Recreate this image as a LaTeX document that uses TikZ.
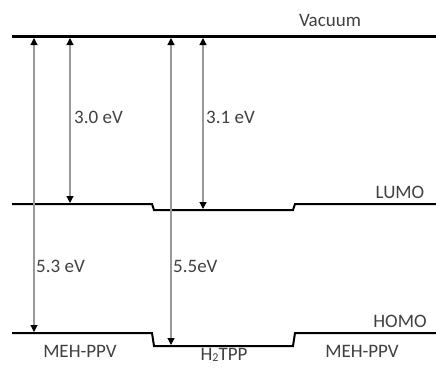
\documentclass[tikz,border=0pt]{standalone}
\usepackage{fontspec}
\setmainfont{Carlito}
\usetikzlibrary{arrows.meta}
\begin{document}
\begin{tikzpicture}[x=1pt,y=-1pt,
  level/.style={line width=2pt,black},
  vac/.style={line width=3pt,black},
  gap/.style={draw=gray!80,line width=1.2pt,{Triangle[length=7pt,width=7pt,color=black]}-{Triangle[length=7pt,width=7pt,color=black]}},
  lbl/.style={font=\fontsize{19}{21}\selectfont,text=black!75,inner sep=0pt}]
\useasboundingbox (0,0) rectangle (436,367);
% vacuum
\coordinate (vL) at (12,36);
\coordinate (vR) at (436,36);
\draw[vac] (vL) -- (vR);
\node[lbl] (vacuum) at (330,20) {Vacuum};
% LUMO
\draw[level] (12,204) -- (152,204) -- (154,210) -- (293,210) -- (295,204) -- (436,204);
\node[lbl] (lumo) at (400,192) {LUMO};
% HOMO
\draw[level] (12,333) -- (152,333) -- (154,346) -- (293,346) -- (295,333) -- (436,333);
\node[lbl] (homo) at (400,321) {HOMO};
% material labels
\node[lbl] (meh1) at (80,351) {MEH-PPV};
\node[lbl,anchor=base] (htpp) at (224,360) {H\raisebox{-0.1em}{\fontsize{12}{12}\selectfont 2}TPP};
\node[lbl] (meh2) at (362,351) {MEH-PPV};
% arrow endpoints
\coordinate (a1t) at (34,38);  \coordinate (a1b) at (34,332);
\coordinate (a2t) at (70,38);  \coordinate (a2b) at (70,203);
\coordinate (a3t) at (171,38); \coordinate (a3b) at (171,345);
\coordinate (a4t) at (203,38); \coordinate (a4b) at (203,209);
\draw[gap] (a1b) -- (a1t);
\draw[gap] (a2b) -- (a2t);
\draw[gap] (a3b) -- (a3t);
\draw[gap] (a4b) -- (a4t);
% gap labels
\node[lbl,anchor=west] (l30) at (74,117) {3.0 eV};
\node[lbl,anchor=west] (l31) at (206,117) {3.1 eV};
\node[lbl,anchor=west] (l53) at (36,266) {5.3 eV};
\node[lbl,anchor=west] (l55) at (173,266) {5.5eV};
\end{tikzpicture}
\end{document}
